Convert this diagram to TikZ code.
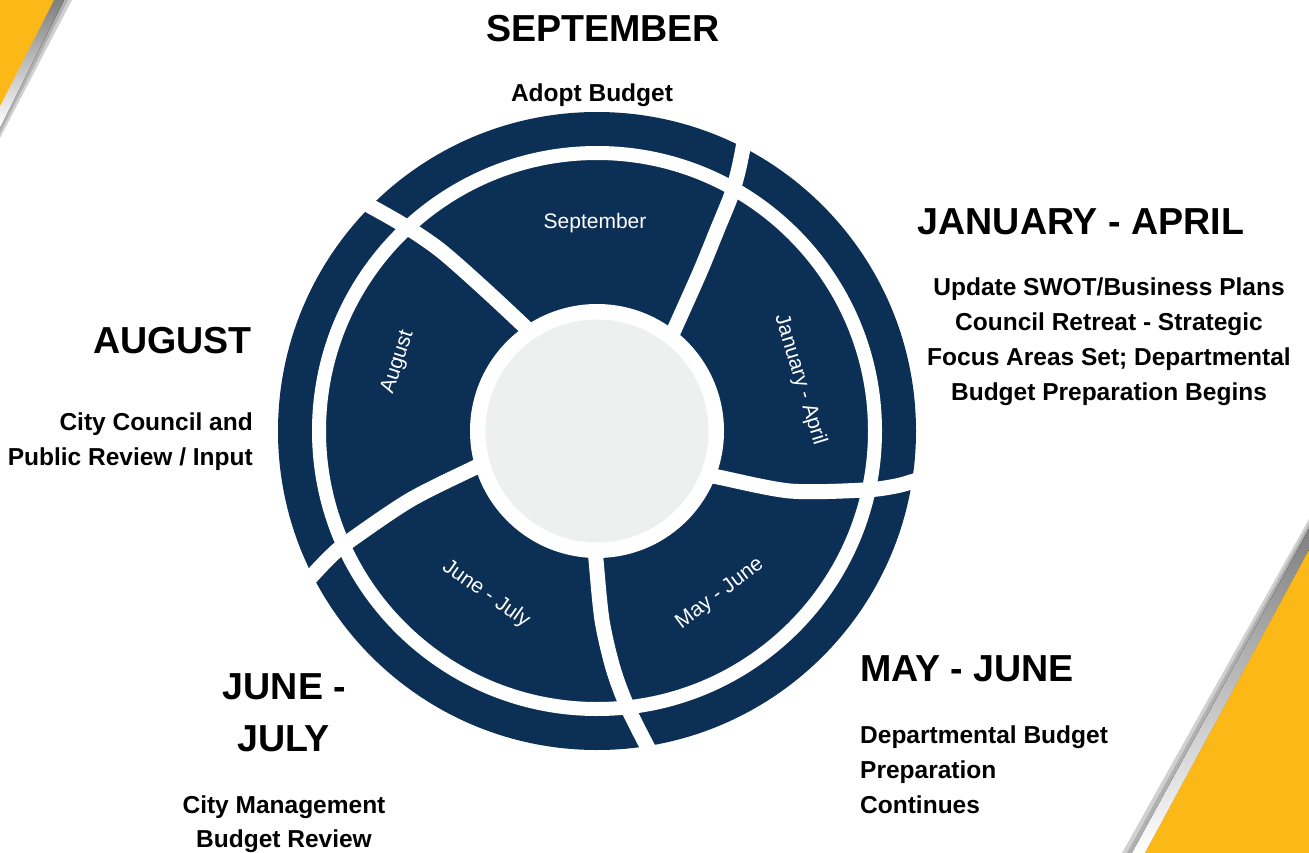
\documentclass[tikz,border=0pt]{standalone}
\usepackage{fontspec}
\setmainfont{Liberation Sans}
\definecolor{navy}{HTML}{0C2F56}
\definecolor{hubgray}{HTML}{EEEFEF}
\definecolor{accent}{HTML}{FBB817}
\definecolor{shade}{HTML}{969696}
\begin{document}
\begin{tikzpicture}[x=1pt,y=-1pt,
  heading/.style={font=\bfseries\fontsize{37.6}{44}\selectfont, inner sep=0pt, text=black},
  body/.style={font=\bfseries\fontsize{24.5}{35}\selectfont, inner sep=0pt, text=black},
  seglabel/.style={font=\fontsize{21}{25}\selectfont, text=white, inner sep=0pt},
  divider/.style={draw=white, line width=15pt, line cap=butt},
]
% page
\fill[white] (0,0) rectangle (1309,853);
\useasboundingbox (0,0) rectangle (1309,853);

% corner accents with soft shadows
\fill[shade!45] (50,0) -- (72,0) -- (0,138) -- (0,100) -- cycle;
\fill[shade!75] (52,0) -- (68,0) -- (0,133) -- (0,102) -- cycle;
\fill[shade] (53,0) -- (64,0) -- (0,128) -- (0,104) -- cycle;
\fill[accent] (0,0) -- (54,0) -- (0,106) -- cycle;

\fill[shade!45] (1309,519) -- (1309,550) -- (1145,853) -- (1122,853) -- cycle;
\fill[shade!75] (1309,524) -- (1309,550) -- (1145,853) -- (1127,853) -- cycle;
\fill[shade] (1309,529) -- (1309,550) -- (1145,853) -- (1132,853) -- cycle;
\fill[accent] (1309,550) -- (1309,853) -- (1145,853) -- cycle;

% wheel
\coordinate (hub) at (597,431);
\fill[navy] (hub) circle[radius=319];
\draw[white, line width=14pt] (hub) circle[radius=278];

% curved dividers between the phases
\draw[divider] plot[smooth] coordinates {(535,338) (524,326) (480,285) (440,250) (405,226) (370,206) (352,197)};
\draw[divider] plot[smooth] coordinates {(669,341) (675,328) (700,272) (718,228) (731,196) (738,172) (743,148) (746,128)};
\draw[divider] plot[smooth] coordinates {(706,475) (718,477) (790,491) (865,490) (896,486) (914,481) (930,476)};
\draw[divider] plot[smooth] coordinates {(595,548) (596,560) (602,620) (613,668) (627,706) (648,748) (657,764)};
\draw[divider] plot[smooth] coordinates {(486,463) (474,468) (410,500) (348,542) (330,557) (311,577) (300,590)};

% hub
\fill[white] (hub) circle[radius=127];
\fill[hubgray] (hub) circle[radius=111.5];

% phase names on the wheel
\node[seglabel, anchor=base] (lblSep) at (595,229) {September};
\node[seglabel, rotate=-73] (lblJan) at (800,380) {January - April};
\node[seglabel, rotate=72] (lblAug) at (398,362) {August};
\node[seglabel, rotate=-35] (lblJun) at (486,594) {June - July};
\node[seglabel, rotate=37] (lblMay) at (720,594) {May - June};

% September
\node[heading, anchor=base] (sepHead) at (603,42) {SEPTEMBER};
\node[body, anchor=base] (sepText) at (592,102) {Adopt Budget};

% January - April
\node[heading, anchor=base] (janHead) at (1081,235) {JANUARY - APRIL};
\node[body, anchor=base] (janText1) at (1109,295) {Update SWOT/Business Plans};
\node[body, anchor=base] (janText2) at (1109,330) {Council Retreat - Strategic};
\node[body, anchor=base] (janText3) at (1109,365) {Focus Areas Set; Departmental};
\node[body, anchor=base] (janText4) at (1109,400) {Budget Preparation Begins};

% August
\node[heading, anchor=base east] (augHead) at (252,353) {AUGUST};
\node[body, anchor=base east] (augText1) at (253,430) {City Council and};
\node[body, anchor=base east] (augText2) at (253,465) {Public Review / Input};

% June - July
\node[heading, anchor=base] (junHead1) at (284.5,699) {JUNE -};
\node[heading, anchor=base] (junHead2) at (283.5,751) {JULY};
\node[body, anchor=base] (junText1) at (284,813) {City Management};
\node[body, anchor=base] (junText2) at (284,847) {Budget Review};

% May - June
\node[heading, anchor=base west] (mayHead) at (860,681) {MAY - JUNE};
\node[body, anchor=base west] (mayText1) at (860,743) {Departmental Budget};
\node[body, anchor=base west] (mayText2) at (860,778) {Preparation};
\node[body, anchor=base west] (mayText3) at (860,813) {Continues};
\end{tikzpicture}
\end{document}
